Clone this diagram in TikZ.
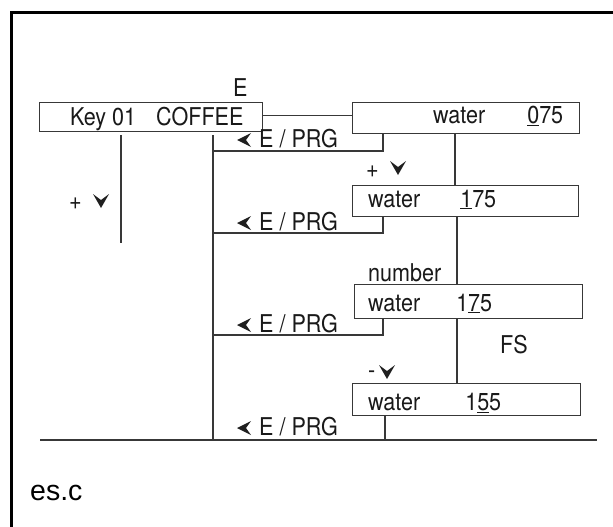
\documentclass[tikz,border=0pt]{standalone}
\usepackage{fontspec}
\setmainfont{TeX Gyre Heros}
\newfontfamily\dfont[FakeStretch=0.88]{TeX Gyre Heros}
\newfontfamily\cfont{Liberation Sans}
\begin{document}
\begin{tikzpicture}[x=1pt,y=-1pt,
  ln/.style={draw=black!78, line width=1.3pt},
  box/.style={ln, rectangle, inner sep=0pt, anchor=north west},
  txt/.style={font=\dfont\fontsize{24.5}{24.5}\selectfont, text=black!90, inner sep=0pt, anchor=base west},
  dnarrow/.pic={\fill[black!88] (0,7) -- (-8,-7) -- (0,-1) -- (8,-7) -- cycle;},
  lfarrow/.pic={\fill[black!88] (-7,0) -- (7,-7) -- (2,0) -- (7,7) -- cycle;}]
\useasboundingbox (0,0) rectangle (613,527);
\draw[line width=3pt] (613,12.5) -- (11.5,12.5) -- (11.5,527);

% boxes
\node[box, minimum width=223pt, minimum height=29pt] (key) at (39,102) {};
\node[box, minimum width=227pt, minimum height=31pt] (w1) at (352,102) {};
\node[box, minimum width=226pt, minimum height=31pt] (w2) at (352,185) {};
\node[box, minimum width=228pt, minimum height=34pt] (w3) at (354,284) {};
\node[box, minimum width=228pt, minimum height=32pt] (w4) at (352,383) {};

% box texts
\node[txt] (tkey) at (70,125) {Key 01\hspace{20pt}COFFEE};
\node[txt] (t1) at (433,123) {water\hspace{42pt}\underline{0}75};
\node[txt] (t2) at (368,207) {water\hspace{40pt}\underline{1}75};
\node[txt] (t3) at (368,311) {water\hspace{36pt}1\underline{7}5};
\node[txt] (t4) at (368,410) {water\hspace{45pt}1\underline{5}5};

% labels
\node[txt] (tE) at (233,96) {E};
\node[txt] (tnum) at (368,281) {number};
\node[txt] (tFS) at (500,353) {FS};
\node[txt] (tp1) at (69,209) {+};
\pic at (101,201) {dnarrow};
\node[txt] (tp2) at (366,177) {+};
\pic at (398,168) {dnarrow};
\node[txt] (tm) at (368,378) {-};
\pic at (387,372) {dnarrow};

\foreach \b/\n in {147/a,230/b,332/c,435/d}{
  \pic at (244,\b-7) {lfarrow};
  \node[txt] (prg\n) at (259,\b) {E / PRG};
}

% coordinates
\coordinate (ttop) at (213,135);
\coordinate (tbot) at (213,440);
\coordinate (ltop) at (121,135);
\coordinate (lbot) at (121,243);
\coordinate (bl) at (40,440);
\coordinate (br) at (597,440);
\coordinate (r1) at (383,151);
\coordinate (r2) at (383,233);
\coordinate (r3) at (383,335);
\coordinate (r4) at (385,440);
\coordinate (c1) at (455,0);
\coordinate (c2) at (457,0);

% connectors
\draw[ln] ([yshift=2pt]key.east) -- ([yshift=2pt]key.east -| w1.west);
\draw[ln] (ttop) -- (tbot);
\draw[ln] (ltop) -- (lbot);
\draw[ln] (bl) -- (br);
\draw[ln] (w1.south -| r1) -- (r1) -- (r1 -| ttop);
\draw[ln] (w2.south -| r2) -- (r2) -- (r2 -| ttop);
\draw[ln] (w3.south -| r3) -- (r3) -- (r3 -| ttop);
\draw[ln] (w4.south -| r4) -- (r4);
\draw[ln] (w1.south -| c1) -- (w2.north -| c1);
\draw[ln] (w2.south -| c2) -- (w3.north -| c2);
\draw[ln] (w3.south -| c2) -- (w4.north -| c2);

\node[font=\cfont\fontsize{28.5}{30}\selectfont, inner sep=0pt, anchor=base west] (esc) at (30,500) {es.c};
\end{tikzpicture}
\end{document}
